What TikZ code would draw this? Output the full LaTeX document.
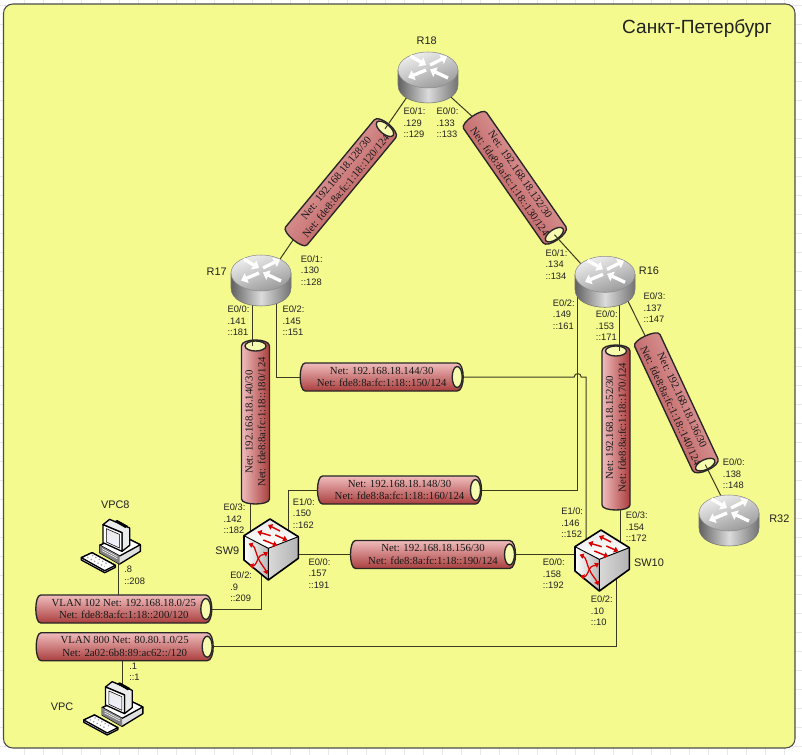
\documentclass[tikz,border=0pt]{standalone}
\usepackage{fontspec}
\setmainfont{Liberation Sans}
\newfontfamily\cylfont{Liberation Serif}
\usetikzlibrary{calc,arrows.meta,backgrounds}
\pgfdeclarelayer{bodylayer}
\pgfdeclarelayer{connlayer}
\pgfsetlayers{background,bodylayer,connlayer,main}
\definecolor{areay}{HTML}{F4FA8E}
\definecolor{txt}{HTML}{222222}
\definecolor{linec}{HTML}{3A3A20}
\tikzset{
  lbl/.style={anchor=north west,inner sep=0pt,align=left,text=txt,font=\fontsize{7}{8.6}\selectfont},
  devname/.style={inner sep=0pt,text=txt,font=\fontsize{8.2}{10}\selectfont},
  cyltext/.style={inner sep=0pt,align=center,text=black!90,font=\cylfont\fontsize{8.1}{9.5}\selectfont,transform shape},
  conn/.style={draw=linec,line width=.75pt},
  cylbody/.style={draw=black!85,line width=1pt,top color=#1,bottom color=cylb},
  box/.style={inner sep=0pt,minimum width=#1pt,minimum height=#1pt},
  redarrow/.style={draw=red!85!black,line width=1.1pt,-{Triangle[length=3.2pt,width=4.4pt]}},
  redarrow2/.style={draw=red!85!black,line width=.95pt,{Triangle[length=3pt,width=4pt]}-{Triangle[length=3pt,width=4pt]}},
  rarrow/.style={draw=white,line width=2.5pt,-{Triangle[length=4.6pt,width=7.6pt]}},
  pcline/.style={draw=black,line width=1pt,line join=round}
}
\definecolor{cylt}{HTML}{F0BCBC}
\definecolor{cylb}{HTML}{AA3E3E}
\newcommand\cyl[7]{%
  \begin{scope}[shift={(#2,#3)},rotate=#4]
    \pgfmathsetmacro\cA{#5/2-6}
    \pgfmathsetmacro\cB{-#5/2+5}
    \begin{pgfonlayer}{bodylayer}
      \path[cylbody=cylt,shading angle=#4] (\cB,-14) -- (\cA,-14)
        .. controls ({\cA+8},-14) and ({\cA+8},14) .. (\cA,14) -- (\cB,14)
        .. controls ({\cB-6.67},14) and ({\cB-6.67},-14) .. (\cB,-14) -- cycle;
      \path[draw=black!85,line width=1pt,fill=areay!70!white] (\cA,0) ellipse [x radius=5,y radius=10.5];
    \end{pgfonlayer}
    \coordinate (#1-h) at (\cA,0);
    \coordinate (#1-e) at ({#5/2},0);
    \coordinate (#1-w) at ({-#5/2},0);
    \coordinate (#1-n) at (0,-14);
    \coordinate (#1-s) at (0,14);
    \node[cyltext] (#1) at (0,0) {#6\\#7};
  \end{scope}}
\newcommand\routericon[2]{%
  \begin{scope}[shift={(#1,#2)}]
    \path[draw=black!55,line width=.4pt,left color=black!62,right color=black!55,middle color=black!14]
      (-30,0) -- (-30,15) .. controls (-30,39) and (30,39) .. (30,15) -- (30,0) -- cycle;
    \path[draw=black!45,line width=.4pt,top color=black!6,bottom color=black!40,shading angle=20]
      (0,0) ellipse [x radius=30,y radius=18];
    \draw[rarrow] (-17.5,-14) -- (-2,-5);
    \draw[rarrow] (2,-5) -- (19,-13.5);
    \draw[rarrow] (-2,0) -- (-20,7.5);
    \draw[rarrow] (20,8) -- (2,-.5);
  \end{scope}}
\newcommand\switchicon[2]{%
  \begin{scope}[shift={(#1,#2)},x=.25pt,y=-.25pt]
    \path[top color=black!8,bottom color=white] (90,12) -- (175,65) -- (85,100) -- (12,62) -- cycle;
    \path[left color=white,right color=black!28] (12,62) -- (85,100) -- (85,195) -- (12,135) -- cycle;
    \path[left color=black!15,middle color=white,right color=black!30] (85,100) -- (175,65) -- (175,130) -- (85,195) -- cycle;
    \draw[black,line width=.7pt,line join=round] (85,100) -- (85,195) (12,62) -- (85,100) -- (175,65);
    \draw[black,line width=1.2pt,line join=round] (90,12) -- (175,65) -- (175,130) -- (85,195) -- (12,135) -- (12,62) -- cycle;
    \draw[redarrow] (120,48) -- (84,30);
    \draw[redarrow] (92,62) -- (52,50);
    \draw[redarrow] (106,60) -- (142,76);
    \draw[redarrow] (70,75) -- (112,92);
    \draw[redarrow2] (26,86) .. controls (46,94) and (48,118) .. (55,130) .. controls (62,148) and (74,158) .. (82,178);
    \draw[redarrow2] (28,150) .. controls (44,154) and (50,142) .. (55,130) .. controls (60,118) and (70,120) .. (84,112);
  \end{scope}}
\newcommand\pcicon[2]{%
  \begin{scope}[shift={(#1,#2)},x=.25pt,y=-.25pt]
    \path[pcline,fill=black!12] (65,100) -- (130,70) -- (187,98) -- (187,118) -- (125,156) -- (65,122) -- cycle;
    \path[pcline,fill=white] (65,100) -- (125,132) -- (187,98) -- (130,70) -- cycle;
    \path[fill=black!50] (65,100) -- (125,132) -- (125,156) -- (65,122) -- cycle;
    \path[pcline,fill=black!8] (75,38) -- (95,22) -- (155,48) -- (155,100) -- (132,118) -- (132,62) -- cycle;
    \path[pcline,fill=white] (75,38) -- (132,62) -- (132,118) -- (75,92) -- cycle;
    \path[draw=black,line width=.4pt,top color=black!8,bottom color=blue!6] (85,50) -- (124,67) -- (124,108) -- (85,90) -- cycle;
    \path[fill=black] (108,28) -- (118,24) -- (150,42) -- (142,48) -- cycle;
    \draw[white,line width=.4pt] (72,110) -- (118,134) (72,116) -- (118,140);
    \path[pcline,fill=black!10] (10,137) -- (42,122) -- (112,160) -- (112,166) -- (80,182) -- (10,144) -- cycle;
    \path[pcline,fill=white] (10,137) -- (42,122) -- (112,160) -- (80,176) -- cycle;
    \draw[black!40,line width=.9pt,dotted] (28,136) -- (80,164) (42,130) -- (92,158);
  \end{scope}}
\newcommand\lab[4]{\node[lbl] (#1) at (#2,{#3-3.4}) {#4};}
\begin{document}
\begin{tikzpicture}[x=.75pt,y=-.75pt]
\useasboundingbox (0,0) rectangle (802,755);
\begin{pgfonlayer}{background}
  \fill[white] (0,0) rectangle (802,755);
  \foreach \k in {0,...,41} {\draw[black!9,line width=.4pt] ({24+19*\k},0) -- ({24+19*\k},755);}
  \foreach \k in {0,...,39} {\draw[black!9,line width=.4pt] (0,{5+19*\k}) -- (802,{5+19*\k});}
  \path[draw=black!70,line width=.8pt,fill=areay,rounded corners=7pt] (3.5,4) rectangle (795,748);
\end{pgfonlayer}

\node[box=45] (R18) at (428,76.7) {};
\node[box=45] (R17) at (261,280) {};
\node[box=45] (R16) at (605,281.3) {};
\node[box=45] (R32) at (729,520) {};
\node[box=40] (SW9) at (268.3,548.3) {};
\node[box=40] (SW10) at (599.3,559.3) {};
\node[box=40] (VPC8) at (110,545) {};
\node[box=40] (VPC) at (112.5,707.3) {};

\cyl{cA}{341}{182}{50.4}{150}{Net: 192.168.18.128/30}{Net: fde8:8a:fc:1:18::120/124}
\cyl{cB}{515}{178}{-55.2}{150}{Net: 192.168.18.132/30}{Net: fde8:8a:fc:1:18::130/124}
\cyl{cC}{616}{427.5}{90}{165}{Net: 192.168.18.152/30}{Net: fde8:8a:fc:1:18::170/124}
\cyl{cD}{676.5}{403}{-65}{148}{Net: 192.168.18.136/30}{Net: fde8:8a:fc:1:18::140/124}
\cyl{cE}{255.5}{422}{90}{164}{Net: 192.168.18.140/30}{Net: fde8:8a:fc:1:18::180/124}
\cyl{cF}{381.7}{377}{0}{163}{Net: 192.168.18.144/30}{Net: fde8:8a:fc:1:18::150/124}
\cyl{cG}{399.5}{490}{0}{164}{Net: 192.168.18.148/30}{Net: fde8:8a:fc:1:18::160/124}
\cyl{cH}{433}{554.5}{0}{165}{Net: 192.168.18.156/30}{Net: fde8:8a:fc:1:18::190/124}
\cyl{cI}{123.8}{609}{0}{176}{VLAN 102 Net: 192.168.18.0/25}{Net: fde8:8a:fc:1:18::200/120}
\cyl{cJ}{124.7}{646.7}{0}{177}{VLAN 800 Net: 80.80.1.0/25}{Net: 2a02:6b8:89:ac62::/120}

\coordinate (r17s) at ($(R17)+(-8.3,15)$);
\coordinate (r17t) at ($(R17)+(15.3,15)$);
\coordinate (r16s) at ($(R16)+(-27.3,5)$);
\coordinate (r16c) at ($(R16)+(14.3,15)$);
\coordinate (sw9a) at ($(SW9)+(-18.3,-10)$);
\coordinate (sw9b) at ($(SW9)+(20,-10)$);
\coordinate (sw9c) at ($(SW9)+(-7.3,15)$);
\coordinate (sw10a) at ($(SW10)+(-13.3,-10)$);
\coordinate (sw10b) at ($(SW10)+(20.7,-10)$);
\coordinate (sw10c) at ($(SW10)+(16.7,15)$);
\coordinate (vpc8b) at ($(VPC8)+(8,10)$);
\coordinate (vpct) at ($(VPC)+(10.2,-15)$);
\coordinate (jl) at ($(r16s |- cF-e)+(-3.5,0)$);
\coordinate (jr) at ($(r16s |- cF-e)+(3.5,0)$);

\begin{pgfonlayer}{connlayer}
  \draw[conn] ($(R18)+(-17.3,15)$) -- (cA-h);
  \draw[conn] ($(R17)+(15,-15)$) -- (cA-w);
  \draw[conn] ($(R18)+(17,15)$) -- (cB-w);
  \draw[conn] (cB-h) -- ($(R16)+(-20,-13)$);
  \draw[conn] (r17s) -- (r17s |- cE-h);
  \draw[conn] (sw9a) -- (sw9a |- cE-w);
  \draw[conn] (r17t) |- (cF-w);
  \draw[conn] (cF-e) -- (jl) .. controls ($(jl)+(0,-4.5)$) and ($(jr)+(0,-4.5)$) .. (jr) -- (sw10a |- cF-e) -- (sw10a);
  \draw[conn] (r16s) |- (cG-e);
  \draw[conn] (sw9b) |- (cG-w);
  \draw[conn] (SW9 |- cH-w) -- (cH-w);
  \draw[conn] (cH-e) -- (SW10 |- cH-e);
  \draw[conn] (sw9c) |- (cI-e);
  \draw[conn] (sw10c) |- (cJ-e);
  \draw[conn] (vpc8b) -- (vpc8b |- cI-n);
  \draw[conn] (vpct) -- (vpct |- cJ-s);
  \draw[conn] (r16c) -- (r16c |- cC-h);
  \draw[conn] (sw10b) -- (sw10b |- cC-w);
  \draw[conn] ($(R16)+(18,10)$) -- (cD-w);
  \draw[conn] (cD-h) -- ($(R32)+(-6,-20)$);
\end{pgfonlayer}

\routericon{428}{70}
\routericon{261}{273}
\routericon{605}{274.3}
\routericon{729}{513}
\switchicon{240}{515}
\switchicon{571}{526}
\pcicon{78}{512}
\pcicon{80.5}{674.3}

\node[devname,font=\fontsize{14.3}{16}\selectfont] (title) at (697,28) {Санкт-Петербург};
\node[devname] (nR18) at (426.7,40.7) {R18};
\node[devname] (nR17) at (216.7,271.7) {R17};
\node[devname] (nR16) at (649,271) {R16};
\node[devname] (nR32) at (779.3,518.3) {R32};
\node[devname] (nSW9) at (227.3,550.7) {SW9};
\node[devname] (nSW10) at (649,562.3) {SW10};
\node[devname] (nVPC8) at (115.3,505) {VPC8};
\node[devname] (nVPC) at (62,706.7) {VPC};

\lab{l1}{403.3}{111}{E0/1:\\.129\\::129}
\lab{l2}{436.3}{111}{E0/0:\\.133\\::133}
\lab{l3}{300.7}{258.7}{E0/1:\\.130\\::128}
\lab{l4}{227.3}{309.3}{E0/0:\\.141\\::181}
\lab{l5}{282.3}{309}{E0/2:\\.145\\::151}
\lab{l6}{545.3}{252.7}{E0/1:\\.134\\::134}
\lab{l7}{552.7}{302.7}{E0/2:\\.149\\::161}
\lab{l8}{595.7}{314}{E0/0:\\.153\\::171}
\lab{l9}{643.3}{296}{E0/3:\\.137\\::147}
\lab{l10}{722.7}{462.3}{E0/0:\\.138\\::148}
\lab{l11}{561}{511}{E1/0:\\.146\\::152}
\lab{l12}{625.7}{515.3}{E0/3:\\.154\\::172}
\lab{l13}{542.7}{562.3}{E0/0:\\.158\\::192}
\lab{l14}{590.7}{599.3}{E0/2:\\.10\\::10}
\lab{l15}{223.3}{507.3}{E0/3:\\.142\\::182}
\lab{l16}{292.7}{501.7}{E1/0:\\.150\\::162}
\lab{l17}{230}{575}{E0/2:\\.9\\::209}
\lab{l18}{308.3}{561.7}{E0/0:\\.157\\::191}
\lab{l19}{124}{569.3}{.8\\::208}
\lab{l20}{129}{666}{.1\\::1}
\end{tikzpicture}
\end{document}
